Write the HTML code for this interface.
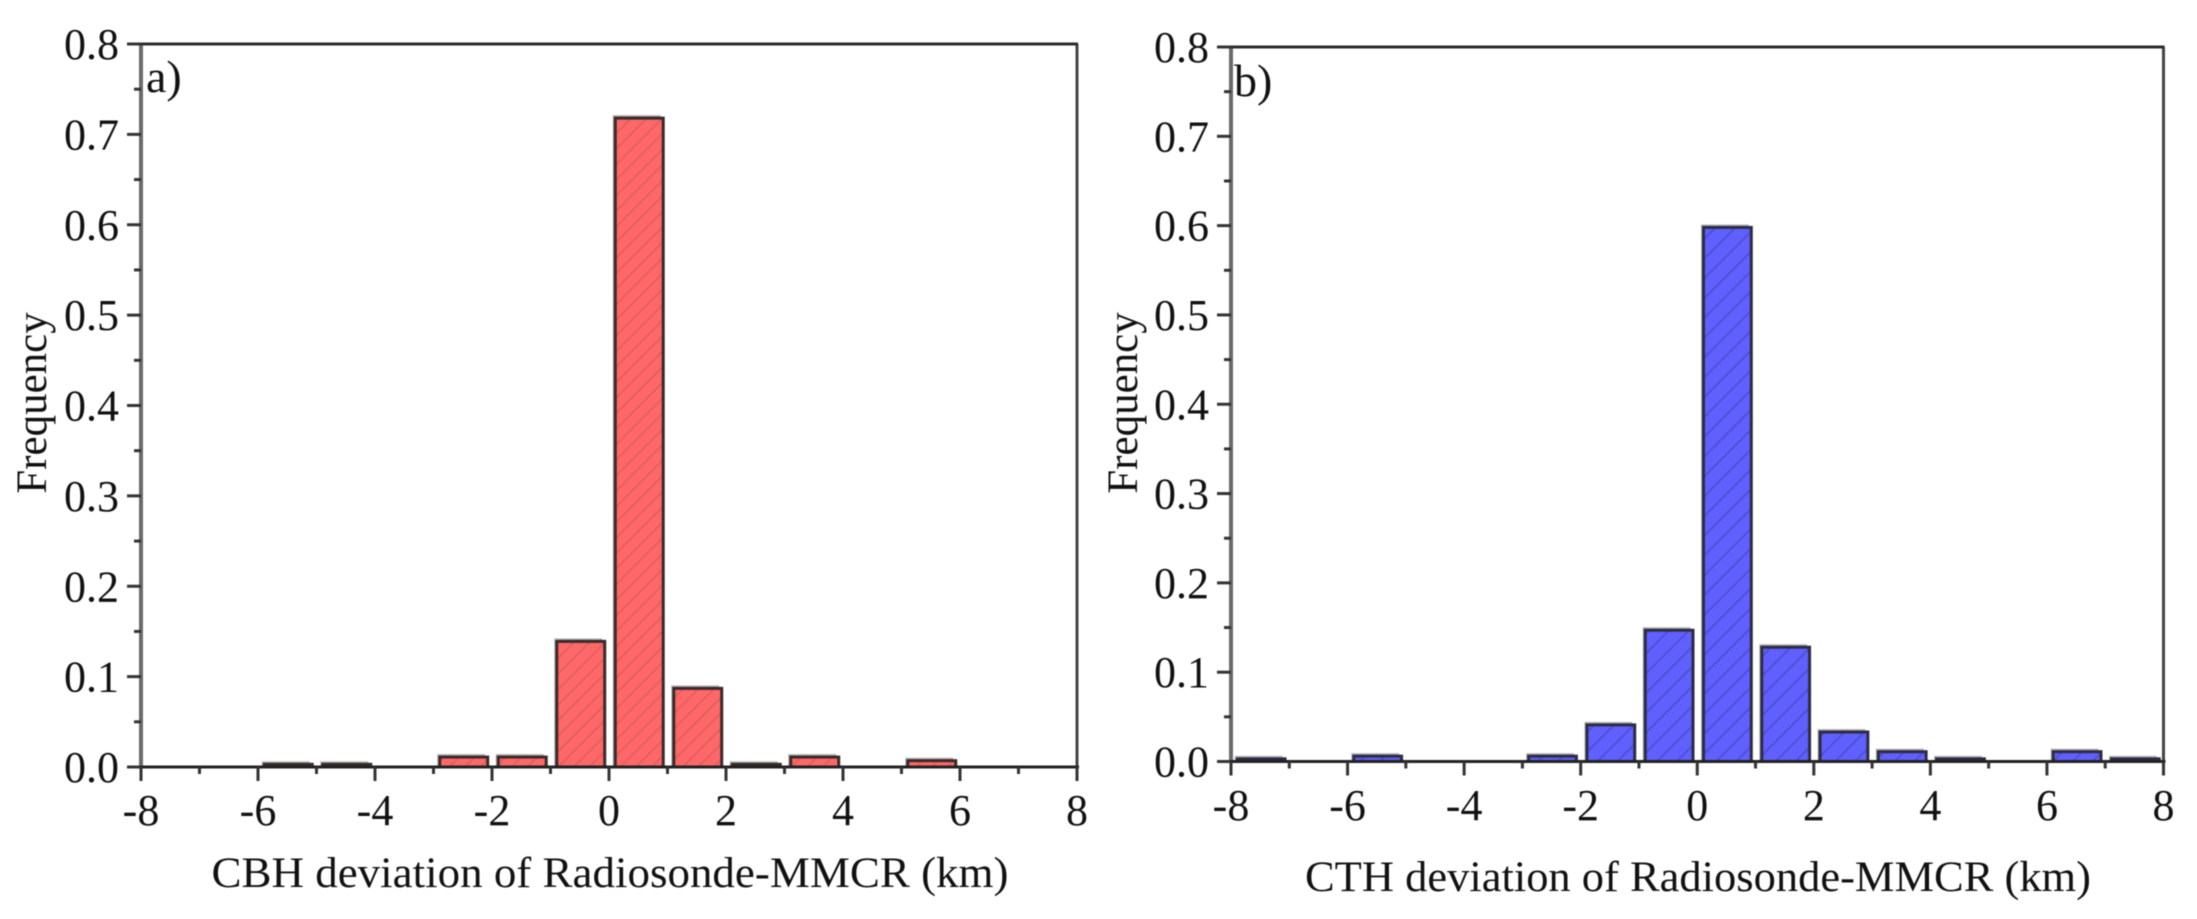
<!DOCTYPE html>
<html lang="en">
<head>
<meta charset="utf-8">
<title>CBH and CTH deviation histograms</title>
<style>
  html, body { margin: 0; padding: 0; background: #fff; }
  svg { display: block; font-family: "Liberation Serif", "Times New Roman", serif; filter: blur(0.6px); }
  text { fill: #111; }
</style>
</head>
<body>
<svg id="figure" xmlns="http://www.w3.org/2000/svg" width="2197" height="919" viewBox="0 0 2197 919">
  <defs>
    <pattern id="hatch-red" patternUnits="userSpaceOnUse" width="11" height="11" patternTransform="rotate(45)">
      <rect width="11" height="11" fill="#ff6868"></rect>
      <line x1="2" y1="0" x2="2" y2="11" stroke="#e46060" stroke-width="2"></line>
    </pattern>
    <pattern id="hatch-blue" patternUnits="userSpaceOnUse" width="14" height="14" patternTransform="rotate(45)">
      <rect width="14" height="14" fill="#6060ff"></rect>
      <line x1="2" y1="0" x2="2" y2="14" stroke="#5050d8" stroke-width="2"></line>
    </pattern>
  </defs>
</svg>
<script>
// Chart data
const binCentersA = [-5.5, -4.5, -2.5, -1.5, -0.5, 0.5, 1.5, 2.5, 3.5, 5.5];
const frequencyA = [0.003, 0.003, 0.011, 0.011, 0.139, 0.718, 0.087, 0.003, 0.011, 0.007];
const binCentersB = [-7.5, -5.5, -2.5, -1.5, -0.5, 0.5, 1.5, 2.5, 3.5, 4.5, 6.5, 7.5];
const frequencyB = [0.003, 0.006, 0.006, 0.041, 0.147, 0.598, 0.128, 0.033, 0.011, 0.003, 0.011, 0.003];
const xTickValues = [-8, -6, -4, -2, 0, 2, 4, 6, 8];
const xMinorValues = [-7, -5, -3, -1, 1, 3, 5, 7];
const yTickValues = [0, 0.1, 0.2, 0.3, 0.4, 0.5, 0.6, 0.7, 0.8];
const yMinorValues = [0.05, 0.15, 0.25, 0.35, 0.45, 0.55, 0.65, 0.75];

const svg = document.getElementById('figure');
const NS = 'http://www.w3.org/2000/svg';

function make(tag, attrs, parent) {
  const el = document.createElementNS(NS, tag);
  for (const key in attrs) el.setAttribute(key, attrs[key]);
  parent.appendChild(el);
  return el;
}

function drawPanel(p) {
  const xScale = v => p.left + (v + 8) * (p.right - p.left) / 16;
  const yScale = v => p.bottom - v * (p.bottom - p.top) / 0.8;

  const panel = make('g', {}, svg);
  
  

  // bars
  const barWidth = 0.82 * (p.right - p.left) / 16;
  p.centers.forEach((c, i) => {
    const x = xScale(c) + 1 - barWidth / 2;
    const y = yScale(p.values[i]);
    const h = Math.max(p.bottom - y, 1);
    const shadow = make('rect', { x: x - 2.5, y: y - 3, width: barWidth, height: h + 3, fill: '#b4b4b4' }, panel);
    
    
    const bar = make('rect', { x: x, y: y, width: barWidth, height: h, fill: p.fill, stroke: p.edge, 'stroke-width': 3 }, panel);
    
    
  });

  // frame
  const spineLeft = make('line', { x1: p.left, y1: p.top, x2: p.left, y2: p.bottom, stroke: '#6a6a6a', 'stroke-width': 4 }, panel);
  
  
  const spineRight = make('line', { x1: p.right, y1: p.top, x2: p.right, y2: p.bottom, stroke: '#444', 'stroke-width': 3 }, panel);
  
  
  const spineTop = make('line', { x1: p.left - 14, y1: p.top, x2: p.right + 1, y2: p.top, stroke: '#2c2c2c', 'stroke-width': 3 }, panel);
  
  
  const spineBottom = make('line', { x1: p.left - 14, y1: p.bottom, x2: p.right + 2, y2: p.bottom, stroke: '#222', 'stroke-width': 3 }, panel);
  
  

  // x axis
  xTickValues.forEach(v => {
    const tick = make('line', { x1: xScale(v), y1: p.bottom, x2: xScale(v), y2: p.bottom + 14, stroke: '#333', 'stroke-width': 3 }, panel);
    
    
    const label = make('text', { x: xScale(v), y: p.xLabelY, 'font-size': 44, 'text-anchor': 'middle' }, panel);
    label.textContent = String(v);
    
    
  });
  xMinorValues.forEach(v => {
    const tick = make('line', { x1: xScale(v), y1: p.bottom, x2: xScale(v), y2: p.bottom + 7, stroke: '#333', 'stroke-width': 3 }, panel);
    
    
  });

  // y axis
  yTickValues.forEach(v => {
    const tick = make('line', { x1: p.left - 14, y1: yScale(v), x2: p.left, y2: yScale(v), stroke: '#333', 'stroke-width': 3 }, panel);
    
    
    const label = make('text', { x: p.left - 22, y: yScale(v) + 15, 'font-size': 44, 'text-anchor': 'end' }, panel);
    label.textContent = v.toFixed(1);
    
    
  });
  yMinorValues.forEach(v => {
    const tick = make('line', { x1: p.left - 7, y1: yScale(v), x2: p.left, y2: yScale(v), stroke: '#333', 'stroke-width': 3 }, panel);
    
    
  });

  // titles
  const xTitle = make('text', { x: p.xTitleX, y: p.xTitleY, 'font-size': 43, 'text-anchor': 'middle', textLength: p.xTitleLen, lengthAdjust: 'spacingAndGlyphs' }, panel);
  xTitle.textContent = p.xTitle;
  
  

  const yTitle = make('text', { transform: 'translate(' + p.yTitleX + ',403) rotate(-90)', 'font-size': 43, 'text-anchor': 'middle' }, panel);
  yTitle.textContent = 'Frequency';
  
  

  const tag = make('text', { x: p.tagX, y: p.tagY, 'font-size': 46 }, panel);
  tag.textContent = p.tag;
  
  
}

drawPanel({
  id: 'cbh', left: 141, right: 1077, top: 44, bottom: 767,
  centers: binCentersA, values: frequencyA,
  fill: 'url(#hatch-red)', edge: '#3a2a2a',
  xLabelY: 825, xTitle: 'CBH deviation of Radiosonde-MMCR (km)',
  xTitleX: 610, xTitleY: 887, xTitleLen: 797,
  yTitleX: 46, tag: 'a)', tagX: 146, tagY: 92
});

drawPanel({
  id: 'cth', left: 1231, right: 2163.5, top: 47, bottom: 761.5,
  centers: binCentersB, values: frequencyB,
  fill: 'url(#hatch-blue)', edge: '#2c2c44',
  xLabelY: 820, xTitle: 'CTH deviation of Radiosonde-MMCR (km)',
  xTitleX: 1698, xTitleY: 891, xTitleLen: 786,
  yTitleX: 1137, tag: 'b)', tagX: 1234, tagY: 96
});
</script>
</body>
</html>
